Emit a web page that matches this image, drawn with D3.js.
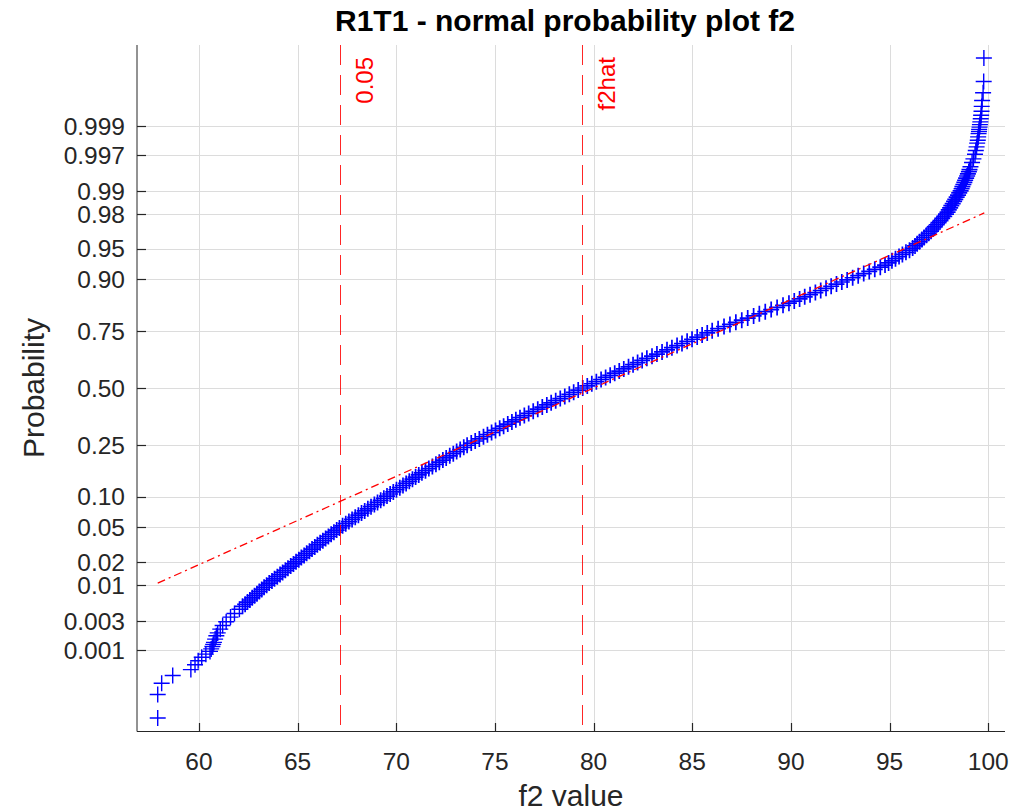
<!DOCTYPE html>
<html>
<head>
<meta charset="utf-8">
<script src="https://cdn.jsdelivr.net/npm/d3@7"></script>
<style>
  html, body { margin: 0; padding: 0; background: #ffffff; }
  svg { display: block; }
  text { font-family: "Liberation Sans", Arial, Helvetica, sans-serif; }
</style>
</head>
<body>
<svg id="chart" width="1022" height="812"></svg>
<script>
// ---------------- data ----------------
const chartTitle = "R1T1 - normal probability plot f2";
const xLabel = "f2 value";
const yLabel = "Probability";

const xTickValues = [60, 65, 70, 75, 80, 85, 90, 95, 100];
const yTickProbs  = [0.001, 0.003, 0.01, 0.02, 0.05, 0.10, 0.25, 0.50, 0.75, 0.90, 0.95, 0.98, 0.99, 0.997, 0.999];
const yTickLabels = ["0.001", "0.003", "0.01", "0.02", "0.05", "0.10", "0.25", "0.50", "0.75", "0.90", "0.95", "0.98", "0.99", "0.997", "0.999"];

// normal scores (theoretical quantiles) and sorted f2 values
const lowerTailScore = [-3.891, -3.615, -3.481, -3.390, -3.321, -3.264, -3.217, -3.176, -3.139, -3.106, -3.077, -3.049, -3.024, -3.000, -2.961, -2.922, -2.888, -2.844, -2.801, -2.757, -2.702, -2.660, -2.609];
const lowerTailF2    = [57.91, 57.91, 58.11, 58.67, 59.59, 59.80, 59.96, 60.14, 60.35, 60.56, 60.62, 60.68, 60.72, 60.76, 60.82, 60.88, 60.95, 61.08, 61.20, 61.38, 61.60, 61.80, 62.05];

const bodyScore = [
 -2.575,-2.55,-2.525,-2.5,-2.475,-2.45,-2.425,-2.4,-2.375,-2.35,-2.325,-2.3,-2.275,-2.25,-2.225,-2.2,-2.175,-2.15,-2.125,-2.1,
 -2.075,-2.05,-2.025,-2.0,-1.975,-1.95,-1.925,-1.9,-1.875,-1.85,-1.825,-1.8,-1.775,-1.75,-1.725,-1.7,-1.675,-1.65,-1.625,-1.6,
 -1.575,-1.55,-1.525,-1.5,-1.475,-1.45,-1.425,-1.4,-1.375,-1.35,-1.325,-1.3,-1.275,-1.25,-1.225,-1.2,-1.175,-1.15,-1.125,-1.1,
 -1.075,-1.05,-1.025,-1.0,-0.975,-0.95,-0.925,-0.9,-0.875,-0.85,-0.825,-0.8,-0.775,-0.75,-0.725,-0.7,-0.675,-0.65,-0.625,-0.6,
 -0.575,-0.55,-0.525,-0.5,-0.475,-0.45,-0.425,-0.4,-0.375,-0.35,-0.325,-0.3,-0.275,-0.25,-0.225,-0.2,-0.175,-0.15,-0.125,-0.1,
 -0.075,-0.05,-0.025,0.0,0.025,0.05,0.075,0.1,0.125,0.15,0.175,0.2,0.225,0.25,0.275,0.3,0.325,0.35,0.375,0.4,
 0.425,0.45,0.475,0.5,0.525,0.55,0.575,0.6,0.625,0.65,0.675,0.7,0.725,0.75,0.775,0.8,0.825,0.85,0.875,0.9,
 0.925,0.95,0.975,1.0,1.025,1.05,1.075,1.1,1.125,1.15,1.175,1.2,1.225,1.25,1.275,1.3,1.325,1.35,1.375,1.4,
 1.425,1.45,1.475,1.5,1.525,1.55,1.575,1.6,1.625,1.65,1.675,1.7,1.725,1.75,1.775,1.8,1.825,1.85,1.875,1.9,
 1.925,1.95,1.975,2.0,2.025,2.05,2.075,2.1,2.125,2.15,2.175,2.2,2.225,2.25,2.275,2.3,2.325,2.35,2.375,2.4,
 2.425,2.45,2.475,2.5,2.525,2.55,2.575
];
const bodyF2 = [
 62.21,62.34,62.46,62.58,62.70,62.82,62.94,63.06,63.18,63.30,63.43,63.56,63.70,63.83,63.97,64.11,64.24,64.38,64.51,64.65,
 64.79,64.92,65.06,65.19,65.33,65.46,65.60,65.73,65.87,66.00,66.14,66.28,66.42,66.56,66.70,66.84,66.98,67.12,67.28,67.44,
 67.60,67.76,67.92,68.08,68.24,68.40,68.56,68.72,68.89,69.05,69.21,69.37,69.53,69.69,69.85,70.01,70.18,70.34,70.50,70.66,
 70.82,70.98,71.14,71.30,71.48,71.65,71.83,72.01,72.18,72.36,72.53,72.71,72.89,73.06,73.24,73.42,73.59,73.80,74.00,74.21,
 74.42,74.62,74.83,75.03,75.24,75.44,75.65,75.86,76.06,76.27,76.49,76.71,76.94,77.17,77.40,77.63,77.85,78.08,78.31,78.54,
 78.77,78.99,79.22,79.45,79.68,79.91,80.14,80.38,80.61,80.84,81.07,81.30,81.53,81.77,82.00,82.23,82.46,82.70,82.96,83.21,
 83.47,83.72,83.97,84.23,84.48,84.74,84.99,85.25,85.50,85.76,86.01,86.31,86.61,86.91,87.21,87.51,87.81,88.11,88.40,88.70,
 89.00,89.30,89.60,89.90,90.17,90.44,90.70,90.97,91.24,91.51,91.78,92.04,92.31,92.58,92.85,93.13,93.41,93.69,93.97,94.25,
 94.53,94.77,94.95,95.12,95.30,95.48,95.65,95.83,96.01,96.17,96.29,96.40,96.52,96.64,96.75,96.87,96.98,97.10,97.20,97.29,
 97.39,97.48,97.58,97.67,97.77,97.86,97.94,98.00,98.07,98.13,98.20,98.27,98.33,98.40,98.47,98.53,98.60,98.65,98.69,98.74,
 98.79,98.83,98.88,98.93,98.97,99.02,99.05
];

const upperTailScore = [2.609, 2.660, 2.702, 2.757, 2.801, 2.844, 2.888, 2.922, 2.961, 3.000, 3.024, 3.049, 3.077, 3.106, 3.139, 3.176, 3.217, 3.264, 3.321, 3.390, 3.481, 3.615, 3.891];
const upperTailF2    = [99.10, 99.18, 99.25, 99.33, 99.37, 99.41, 99.44, 99.47, 99.49, 99.51, 99.53, 99.54, 99.56, 99.58, 99.60, 99.62, 99.64, 99.66, 99.67, 99.69, 99.74, 99.77, 99.78];

// reference (fit) line end points
const refLineF2   = [57.91, 99.80];
const refLineProb = [0.0107, 0.9805];

// vertical markers
const vLineF2     = [67.15, 79.42];
const vLineLabels = ["0.05", "f2hat"];

// ---------------- helpers ----------------
// inverse standard normal CDF (probability axis transform)
function probit(p) {
  const a = [-3.969683028665376e+01, 2.209460984245205e+02, -2.759285104469687e+02, 1.383577518672690e+02, -3.066479806614716e+01, 2.506628277459239e+00];
  const b = [-5.447609879822406e+01, 1.615858368580409e+02, -1.556989798598866e+02, 6.680131188771972e+01, -1.328068155288572e+01];
  const c = [-7.784894002430293e-03, -3.223964580411365e-01, -2.400758277161838e+00, -2.549671348324570e+00, 4.374664141464968e+00, 2.938163982698783e+00];
  const d = [7.784695709041462e-03, 3.224671290700398e-01, 2.445134137142996e+00, 3.754408661907416e+00];
  const plow = 0.02425, phigh = 1 - plow;
  let q, r;
  if (p < plow) {
    q = Math.sqrt(-2 * Math.log(p));
    return (((((c[0]*q+c[1])*q+c[2])*q+c[3])*q+c[4])*q+c[5]) / ((((d[0]*q+d[1])*q+d[2])*q+d[3])*q+1);
  }
  if (p <= phigh) {
    q = p - 0.5; r = q*q;
    return (((((a[0]*r+a[1])*r+a[2])*r+a[3])*r+a[4])*r+a[5])*q / (((((b[0]*r+b[1])*r+b[2])*r+b[3])*r+b[4])*r+1);
  }
  q = Math.sqrt(-2 * Math.log(1 - p));
  return -(((((c[0]*q+c[1])*q+c[2])*q+c[3])*q+c[4])*q+c[5]) / ((((d[0]*q+d[1])*q+d[2])*q+d[3])*q+1);
}

// ---------------- layout ----------------
const L = 137, R = 1005, T = 45, B = 731;
const textColor = "#262626";

const x = d3.scaleLinear().domain([56.86, 100.85]).range([L, R]);
const y = d3.scaleLinear().domain([-4.045, 4.045]).range([B, T]);

const svg = d3.select("#chart");

// grid
const grid = svg.append("g").attr("stroke", "#dcdcdc").attr("stroke-width", 1);
grid.selectAll("line.vx").data(xTickValues).join("line")
  .attr("x1", d => Math.round(x(d)) + 0.5).attr("x2", d => Math.round(x(d)) + 0.5)
  .attr("y1", T).attr("y2", B);
grid.selectAll("line.hy").data(yTickProbs).join("line")
  .attr("x1", L).attr("x2", R)
  .attr("y1", d => Math.round(y(probit(d))) + 0.5).attr("y2", d => Math.round(y(probit(d))) + 0.5);

// points
const tailPoints = [];
lowerTailScore.forEach((s, i) => tailPoints.push({ z: s, v: lowerTailF2[i] }));
upperTailScore.forEach((s, i) => tailPoints.push({ z: s, v: upperTailF2[i] }));
const bodyPoints = bodyScore.map((s, i) => ({ z: s, v: bodyF2[i] }));

const ms = 8;
const plus = d => {
  const px = x(d.v), py = y(d.z);
  return `M${px - ms},${py}H${px + ms}M${px},${py - ms}V${py + ms}`;
};
svg.append("g")
  .attr("fill", "none").attr("stroke", "#0000ff").attr("stroke-width", 1.7)
  .selectAll("path").data(bodyPoints).join("path").attr("d", plus);
svg.append("g")
  .attr("fill", "none").attr("stroke", "#0000ff").attr("stroke-width", 1.4)
  .selectAll("path").data(tailPoints).join("path").attr("d", plus);

// reference dash-dot line
svg.append("line")
  .attr("x1", x(refLineF2[0])).attr("y1", y(probit(refLineProb[0])))
  .attr("x2", x(refLineF2[1])).attr("y2", y(probit(refLineProb[1])))
  .attr("stroke", "#ff0000").attr("stroke-width", 1.3)
  .attr("stroke-dasharray", "8,4,2,4");

// vertical dashed lines + labels
vLineF2.forEach((v, i) => {
  const px = Math.round(x(v)) + 0.5;
  svg.append("line")
    .attr("x1", px).attr("x2", px).attr("y1", T).attr("y2", B)
    .attr("stroke", "#ff0000").attr("stroke-width", 1).attr("stroke-opacity", 0.85)
    .attr("stroke-dasharray", "20,10");
  svg.append("text")
    .attr("transform", `translate(${px + 32},57) rotate(-90)`)
    .attr("text-anchor", "end")
    .attr("fill", "#ff0000")
    .attr("font-size", 24)
    .text(vLineLabels[i]);
});

// axes
const axes = svg.append("g");
axes.append("line").attr("x1", L).attr("x2", L).attr("y1", T).attr("y2", B + 0.5)
  .attr("stroke", textColor).attr("stroke-width", 1);
axes.append("line").attr("x1", L).attr("x2", R).attr("y1", B + 0.5).attr("y2", B + 0.5)
  .attr("stroke", textColor).attr("stroke-width", 1.2);

// x ticks
axes.selectAll("line.xt").data(xTickValues).join("line")
  .attr("x1", d => Math.round(x(d)) + 0.5).attr("x2", d => Math.round(x(d)) + 0.5)
  .attr("y1", B).attr("y2", B - 8)
  .attr("stroke", textColor).attr("stroke-width", 1.2);
axes.selectAll("text.xl").data(xTickValues).join("text")
  .attr("x", d => x(d)).attr("y", B + 39)
  .attr("text-anchor", "middle").attr("font-size", 24.5).attr("fill", textColor)
  .text(d => d);

// y ticks
axes.selectAll("line.yt").data(yTickProbs).join("line")
  .attr("x1", L).attr("x2", L + 9)
  .attr("y1", d => Math.round(y(probit(d))) + 0.5).attr("y2", d => Math.round(y(probit(d))) + 0.5)
  .attr("stroke", textColor).attr("stroke-width", 1.2);
axes.selectAll("text.yl").data(yTickProbs).join("text")
  .attr("x", L - 12).attr("y", d => y(probit(d)) + 8.8)
  .attr("text-anchor", "end").attr("font-size", 24.5).attr("fill", textColor)
  .text((d, i) => yTickLabels[i]);

// labels
svg.append("text").attr("x", (L + R) / 2 - 6).attr("y", 31)
  .attr("text-anchor", "middle").attr("font-size", 30).attr("font-weight", "bold").attr("fill", "#000000")
  .text(chartTitle);
svg.append("text").attr("x", (L + R) / 2).attr("y", 806)
  .attr("text-anchor", "middle").attr("font-size", 30).attr("fill", textColor)
  .text(xLabel);
svg.append("text").attr("transform", `translate(44,${(T + B) / 2}) rotate(-90)`)
  .attr("text-anchor", "middle").attr("font-size", 30).attr("fill", textColor)
  .text(yLabel);
</script>
</body>
</html>
